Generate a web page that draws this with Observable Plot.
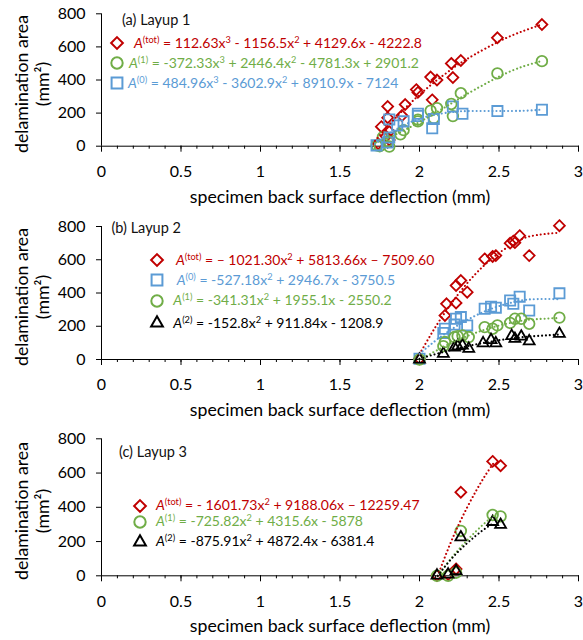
<!DOCTYPE html>
<html><head><meta charset="utf-8">
<script src="https://cdn.jsdelivr.net/npm/d3@7"></script>
<script src="https://cdn.jsdelivr.net/npm/@observablehq/plot@0.6"></script>
<style>
body{margin:0;background:#fff;font-family:Lato,sans-serif;}
#wrap{position:relative;width:583px;height:640px;overflow:hidden;background:#fff}
.panel{position:absolute;left:0;width:583px}
.lab{position:absolute;font-size:14.5px;color:#111;white-space:nowrap;line-height:1}
.leg{position:absolute;white-space:nowrap;font-size:14px;line-height:1}
.ytl{position:absolute;white-space:nowrap;font-size:17.7px;line-height:1;color:#000;transform:translate(-50%,-50%) rotate(-90deg)}
.mk{position:absolute;overflow:visible}
sup{font-size:0.66em;vertical-align:0.5em;line-height:0}
</style></head><body><div id="wrap"></div><script>
// ---------- axes / text ----------
const xTicks = [0, 0.5, 1, 1.5, 2, 2.5, 3];
const xMinorTicks = d3.range(0, 31).map(i => i / 10);
const yTicks = [0, 200, 400, 600, 800];
const xTitle = "specimen back surface deflection (mm)";
const yTitle = ["delamination area", "(mm²)"];
const panelLabels = ["(a) Layup 1", "(b) Layup 2", "(c) Layup 3"];
const colors = {tot: "#C00000", a1: "#70AD47", a0: "#5B9BD5", a2: "#000000"};

// ---------- Layup 1 ----------
const l1Tot = [[1.74,15],[1.76,118],[1.79,60],[1.80,240],[1.80,172],[1.81,88],[1.81,38],[1.89,185],[1.91,252],[1.98,342],[1.99,325],[2.07,418],[2.08,280],[2.11,400],[2.20,500],[2.21,415],[2.26,518],[2.49,655],[2.77,735]];
const l1A1 = [[1.73,5],[1.75,0],[1.77,55],[1.80,30],[1.81,-2],[1.88,72],[1.90,97],[1.99,160],[1.99,150],[2.07,215],[2.09,170],[2.11,230],[2.20,255],[2.21,182],[2.26,320],[2.49,440],[2.77,514]];
const l1A0 = [[1.73,5],[1.80,22],[1.81,52],[1.81,162],[1.86,125],[1.90,150],[1.99,196],[1.99,182],[2.08,108],[2.09,165],[2.21,240],[2.27,196],[2.49,212],[2.77,220]];
const l1TotFit = [[1.72,32],[1.8,120],[1.9,221],[2.0,311],[2.1,392],[2.2,464],[2.3,528],[2.5,633],[2.65,695],[2.77,736]];
const l1A1Fit = [[1.72,20],[1.8,50],[1.9,94],[2.0,146],[2.1,201],[2.2,258],[2.3,316],[2.5,420],[2.65,481],[2.77,515]];
const l1A0Fit = [[1.72,13],[1.8,70],[1.9,126],[2.0,166],[2.1,191],[2.2,206],[2.3,212],[2.5,213],[2.65,214],[2.77,221]];
const l1Eq = [
  "A^{(tot)} = 112.63x^{3} - 1156.5x^{2} + 4129.6x - 4222.8",
  "A^{(1)} = -372.33x^{3} + 2446.4x^{2} - 4781.3x + 2901.2",
  "A^{(0)} = 484.96x^{3} - 3602.9x^{2} + 8910.9x - 7124"
];

// ---------- Layup 2 ----------
const l2Tot = [[2.00,5],[2.16,265],[2.17,335],[2.23,340],[2.23,445],[2.26,475],[2.30,405],[2.41,605],[2.46,620],[2.48,625],[2.57,700],[2.59,712],[2.60,703],[2.63,745],[2.69,625],[2.88,805]];
const l2A0 = [[2.00,5],[2.15,160],[2.16,185],[2.22,210],[2.23,245],[2.26,255],[2.30,205],[2.41,305],[2.45,318],[2.48,312],[2.57,355],[2.59,335],[2.63,378],[2.69,295],[2.88,398]];
const l2A1 = [[2.00,0],[2.15,80],[2.16,105],[2.22,135],[2.24,140],[2.27,145],[2.31,135],[2.41,195],[2.46,185],[2.49,205],[2.57,220],[2.60,245],[2.64,245],[2.69,215],[2.88,252]];
const l2A2 = [[2.00,0],[2.15,35],[2.22,72],[2.24,80],[2.27,85],[2.31,65],[2.40,98],[2.45,118],[2.48,98],[2.58,142],[2.60,125],[2.64,138],[2.69,110],[2.88,155]];
const l2TotFit = [[2.0,32],[2.1,195],[2.2,337],[2.3,459],[2.4,560],[2.5,641],[2.6,702],[2.7,742],[2.88,763]];
const l2A0Fit = [[2.0,34],[2.1,113],[2.2,181],[2.3,238],[2.4,285],[2.5,321],[2.6,347],[2.7,362],[2.88,363]];
const l2A1Fit = [[2.0,0],[2.1,50],[2.2,99],[2.3,141],[2.4,176],[2.5,204],[2.6,226],[2.7,240],[2.88,250]];
const l2A2Fit = [[2.0,4],[2.1,32],[2.2,57],[2.3,80],[2.4,99],[2.5,116],[2.6,129],[2.7,139],[2.88,150]];
const l2Eq = [
  "A^{(tot)} = – 1021.30x^{2} + 5813.66x – 7509.60",
  "A^{(0)} = -527.18x^{2} + 2946.7x - 3750.5",
  "A^{(1)} = -341.31x^{2} + 1955.1x - 2550.2",
  "A^{(2)} = -152.8x^{2} + 911.84x - 1208.9"
];

// ---------- Layup 3 ----------
const l3Tot = [[2.11,2],[2.18,8],[2.23,40],[2.26,488],[2.46,668],[2.51,643]];
const l3A1 = [[2.11,0],[2.18,0],[2.23,18],[2.26,262],[2.46,355],[2.51,347]];
const l3A2 = [[2.11,2],[2.18,8],[2.23,28],[2.26,225],[2.46,315],[2.51,298]];
const l3TotFit = [[2.115,0],[2.2,202],[2.3,400],[2.4,566],[2.47,663]];
const l3A1Fit = [[2.115,0],[2.2,103],[2.3,208],[2.4,299],[2.47,353]];
const l3A2Fit = [[2.115,0],[2.2,98],[2.3,191],[2.4,267],[2.47,310]];
const l3Eq = [
  "A^{(tot)} = - 1601.73x^{2} + 9188.06x – 12259.47",
  "A^{(1)} = -725.82x^{2} + 4315.6x - 5878",
  "A^{(2)} = -875.91x^{2} + 4872.4x - 6381.4"
];

const SYM = {
  tot: {name: "diamond2", d3: d3.symbolDiamond2, r: 4.9},
  a1: {name: "circle", d3: d3.symbolCircle, r: 5.3},
  a0: {name: "square2", d3: d3.symbolSquare2, r: 6.5},
  a2: {name: "triangle2", d3: d3.symbolTriangle2, r: 5.2}
};

const panels = [
  {top: 0, height: 210, mt: 13.3, mb: 64.3, label: panelLabels[0], labX: 122, labY: 20.5,
   series: [
     {key: "tot", pts: l1Tot, fit: l1TotFit},
     {key: "a1", pts: l1A1, fit: l1A1Fit},
     {key: "a0", pts: l1A0, fit: l1A0Fit}],
   legend: [
     {key: "tot", eq: l1Eq[0], y: 43.3, mx: 117, tx: 134},
     {key: "a1", eq: l1Eq[1], y: 63.3, mx: 117, tx: 129},
     {key: "a0", eq: l1Eq[2], y: 83, mx: 117, tx: 128}]},
  {top: 210, height: 210, mt: 16, mb: 61, label: panelLabels[1], labX: 111.5, labY: 18.3,
   series: [
     {key: "tot", pts: l2Tot, fit: l2TotFit},
     {key: "a0", pts: l2A0, fit: l2A0Fit},
     {key: "a1", pts: l2A1, fit: l2A1Fit},
     {key: "a2", pts: l2A2, fit: l2A2Fit}],
   legend: [
     {key: "tot", eq: l2Eq[0], y: 50, mx: 156.7, tx: 176},
     {key: "a0", eq: l2Eq[1], y: 70, mx: 156.7, tx: 176.7},
     {key: "a1", eq: l2Eq[2], y: 90.7, mx: 156.7, tx: 173.3},
     {key: "a2", eq: l2Eq[3], y: 113.3, mx: 156.7, tx: 173.3}]},
  {top: 420, height: 220, mt: 18.3, mb: 64.7, label: panelLabels[2], labX: 119, labY: 32.3,
   series: [
     {key: "tot", pts: l3Tot, fit: l3TotFit},
     {key: "a1", pts: l3A1, fit: l3A1Fit},
     {key: "a2", pts: l3A2, fit: l3A2Fit}],
   legend: [
     {key: "tot", eq: l3Eq[0], y: 85.5, mx: 140, tx: 156},
     {key: "a1", eq: l3Eq[1], y: 101.8, mx: 140, tx: 156},
     {key: "a2", eq: l3Eq[2], y: 121.7, mx: 140, tx: 156}]}
];

function eqHtml(s) {
  return s.replace(/^A/, "<i>A</i>").replace(/\^\{([^}]*)\}/g, "<sup>$1</sup>");
}

const wrap = document.getElementById("wrap");
for (const p of panels) {
  const div = document.createElement("div");
  div.className = "panel";
  div.style.top = p.top + "px";
  div.style.height = p.height + "px";
  const chart = Plot.plot({
    width: 583, height: p.height,
    marginLeft: 101, marginRight: 5, marginTop: p.mt, marginBottom: p.mb,
    x: {domain: [0, 3]}, y: {domain: [0, 800]},
    style: {fontFamily: "Lato, sans-serif", fontSize: "16px", color: "#000", background: "transparent", overflow: "visible"},
    marks: [
      Plot.axisX(xMinorTicks, {tickSize: 3, fill: "none", label: null}),
      Plot.axisX(xTicks, {tickSize: 6, tickPadding: 13.4, tickFormat: d => String(d), label: null}),
      Plot.axisY(yTicks, {tickSize: 5, tickPadding: 11, tickFormat: d => String(d), label: null}),
      Plot.ruleY([0], {stroke: "#000"}),
      Plot.ruleX([0], {stroke: "#000"}),
      ...p.series.map(s => Plot.dot(s.pts, {x: d => d[0], y: d => d[1], symbol: SYM[s.key].name, r: SYM[s.key].r, stroke: colors[s.key], strokeWidth: 1.8, fill: "none"})),
      ...p.series.map(s => Plot.line(s.fit, {x: d => d[0], y: d => d[1], stroke: colors[s.key], strokeWidth: 2.1, strokeLinecap: "round", strokeDasharray: "0.01,3.9", curve: "natural"})),
      Plot.text([xTitle], {text: d => d, frameAnchor: "bottom", textAnchor: "middle", lineAnchor: "middle", dy: 51, fontSize: 17.7})
    ]
  });
  chart.style.position = "absolute";
  chart.style.left = "0px";
  chart.style.top = "0px";
  div.appendChild(chart);

  const cy = (p.mt + (p.height - p.mb)) / 2 + 4;
  [[yTitle[0], 21.7], [yTitle[1], 43]].forEach(([txt, cx]) => {
    const t = document.createElement("div");
    t.className = "ytl";
    t.textContent = txt;
    t.style.left = cx + "px";
    t.style.top = cy + "px";
    div.appendChild(t);
  });

  const lab = document.createElement("div");
  lab.className = "lab";
  lab.textContent = p.label;
  lab.style.left = p.labX + "px";
  lab.style.top = (p.labY - 14.5 * 0.53) + "px";
  div.appendChild(lab);

  for (const L of p.legend) {
    const sym = SYM[L.key];
    const r = sym.r + 0.4;
    const svg = d3.create("svg").attr("class", "mk").attr("width", 18).attr("height", 18)
      .style("left", (L.mx - 9) + "px").style("top", (L.y - 9) + "px");
    svg.append("path").attr("transform", "translate(9,9)")
      .attr("d", d3.symbol(sym.d3, r * r * Math.PI)())
      .attr("fill", "none").attr("stroke", colors[L.key]).attr("stroke-width", 2);
    div.appendChild(svg.node());
    const t = document.createElement("div");
    t.className = "leg";
    t.style.left = L.tx + "px";
    t.style.top = (L.y - 14 * 0.53) + "px";
    t.style.color = colors[L.key];
    t.innerHTML = eqHtml(L.eq);
    div.appendChild(t);
  }
  wrap.appendChild(div);
}
</script></body></html>
